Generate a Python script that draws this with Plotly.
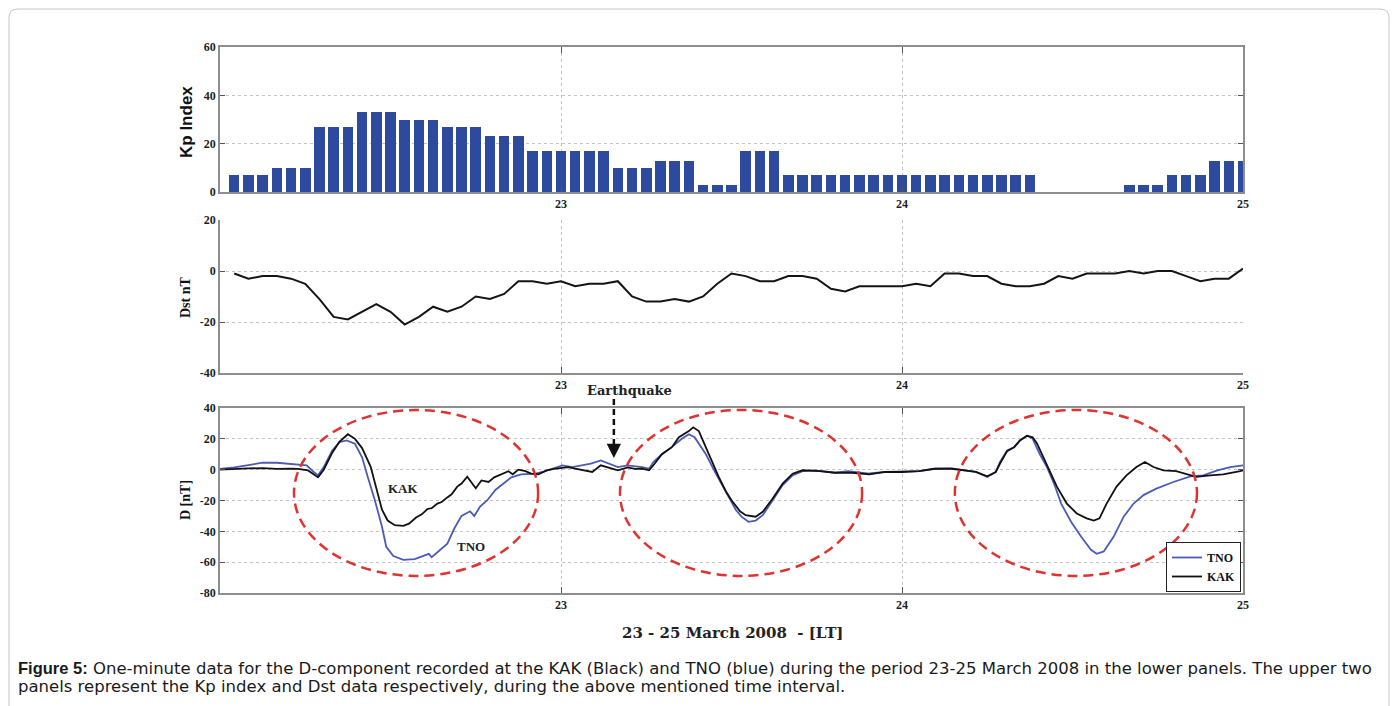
import plotly.graph_objects as go

W, H = 1397, 706

# ---------------- data ----------------
# Kp index (x10), one bar per hour, hours counted from 22 March 2008 00:00 LT
kp_hours = list(range(1, 73))
kp_values = [7, 7, 7, 10, 10, 10, 27, 27, 27, 33, 33, 33, 30, 30, 30, 27, 27, 27, 23, 23, 23, 17, 17, 17,
             17, 17, 17, 10, 10, 10, 13, 13, 13, 3, 3, 3, 17, 17, 17, 7, 7, 7, 7, 7, 7, 7, 7, 7,
             7, 7, 7, 7, 7, 7, 7, 7, 7, 0, 0, 0, 0, 0, 0, 3, 3, 3, 7, 7, 7, 13, 13, 13]

# Dst index (nT), hourly
dst_hours = list(range(1, 73))
dst_values = [-1, -3, -2, -2, -3, -5, -11, -18, -19, -16, -13, -16, -21, -18, -14, -16, -14, -10, -11, -9, -4, -4, -5, -4,
              -6, -5, -5, -4, -10, -12, -12, -11, -12, -10, -5, -1, -2, -4, -4, -2, -2, -3, -7, -8, -6, -6, -6, -6,
              -5, -6, -1, -1, -2, -2, -5, -6, -6, -5, -2, -3, -1, -1, -1, 0, -1, 0, 0, -2, -4, -3, -3, 1]

# D-component at KAK (nT)
kak_hours = [0, 1, 2, 3, 4, 5, 5.5, 6.2, 6.9, 7.3,
             7.9, 8.4, 9.0, 9.5, 10.0, 10.6, 11.0, 11.4, 11.8, 12.3,
             12.9, 13.3, 13.8, 14.2, 14.6, 14.9, 15.3, 15.6, 16.0, 16.3,
             16.7, 17.0, 17.4, 17.7, 18.0, 18.4, 18.9, 19.3, 19.8, 20.3,
             20.6, 21.0, 21.5, 21.9, 22.4, 23.0, 23.5, 24.0, 24.5, 25.0,
             25.6, 26.2, 26.8, 27.3, 28.0, 28.7, 29.2, 29.7, 30.2, 30.6,
             31.1, 31.8, 32.3, 33.0, 33.3, 33.7, 34.4, 35.1, 35.6, 36.0,
             36.6, 37.0, 37.7, 38.2, 38.9, 39.6, 40.3, 41.0, 42.2, 43.3,
             44.5, 45.7, 46.8, 48.0, 49.2, 50.3, 51.5, 52.2, 53.2, 54.0,
             54.6, 54.9, 55.4, 55.9, 56.3, 56.8, 57.2, 57.5, 58.0, 58.5,
             58.9, 59.6, 60.3, 61.0, 61.5, 61.9, 62.4, 63.1, 63.8, 64.5,
             65.1, 65.7, 66.4, 67.3, 68.3, 68.7, 69.7, 70.6, 71.8, 72.0]
kak_values = [0, 0.5, 0.8, 1, 0.5, 0.6, 0.5, -0.5, -5, 0,
              11, 18, 23, 20, 14, 2, -13, -26, -33, -36,
              -36.5, -35, -31, -29, -25.5, -25, -22, -21, -18, -16,
              -11, -9, -4.5, -8, -12, -7, -8, -5, -3, -1,
              -3, 0, -1, -2.5, -3, -0.5, 0.5, 1, 1.7, 0.6,
              -0.5, -1.5, 2.8, 1.5, -0.4, 1.5, 0.5, 0.6, -0.4, 4,
              10, 14.6, 21, 25, 27.5, 25, 10, -4.7, -14, -19.8,
              -27, -29.5, -30.5, -27.3, -18.7, -9, -2.6, -0.4, -0.9, -2,
              -2, -3, -1.5, -1.5, -0.9, 0.6, 0.6, -0.4, -1.5, -4.3,
              -1.5, 4, 12, 14.6, 19, 22, 21, 17, 7, -2.6,
              -11, -22, -28.4, -31.6, -33, -31.6, -22, -11, -3.7, 1.7,
              5, 1.7, -0.4, -0.9, -3.7, -4.7, -3.7, -3, -0.9, -0.5]

# D-component at TNO (nT)
tno_hours = [0, 1, 2, 3, 4, 5, 5.5, 6.1, 6.6, 6.9,
             7.3, 7.9, 8.4, 8.9, 9.5, 10.0, 10.4, 10.9, 11.4, 11.7,
             12.2, 12.9, 13.7, 14.3, 14.7, 14.9, 15.4, 16.0, 16.5, 17.0,
             17.6, 17.9, 18.3, 18.8, 19.4, 20.1, 20.5, 21.2, 22.2, 22.7,
             23.4, 24.1, 24.8, 25.5, 26.1, 26.8, 27.3, 28.0, 28.7, 29.7,
             30.2, 30.5, 31.1, 31.8, 32.5, 33.0, 33.4, 34.2, 34.9, 35.8,
             36.3, 36.7, 37.2, 37.7, 38.2, 38.9, 39.6, 40.3, 41.0, 41.9,
             43.3, 44.2, 45.7, 46.8, 48.0, 49.2, 50.3, 51.5, 52.2, 53.2,
             54.0, 54.6, 54.9, 55.4, 55.9, 56.3, 56.8, 57.2, 57.7, 58.2,
             58.7, 59.2, 59.9, 60.6, 61.3, 61.7, 62.2, 62.9, 63.6, 64.3,
             65.0, 65.9, 67.1, 68.3, 69.2, 70.2, 71.1, 71.8, 72.0]
tno_values = [0.5, 1.5, 3, 4.5, 4.5, 3.5, 3.4, 2.8, -1.5, -3.7,
              1.7, 12.5, 17.8, 19, 16.8, 8, -4.7, -19.8, -37, -50,
              -56, -58.5, -58, -56, -54.6, -56.8, -53, -48, -38, -30,
              -27, -30, -24, -20, -13, -8, -5, -3, -2.6, -1.5,
              0.6, 2.8, 1.7, 2.8, 3.9, 6, 4.3, 1.7, 2.8, 1.7,
              0.6, 5, 10, 14.6, 20, 23, 21, 10, -2.6, -17.6,
              -26, -30.5, -33.8, -33, -29.5, -19.8, -10, -3.7, -0.9, -0.4,
              -2, -0.9, -2.5, -1.5, -1.2, -0.9, 0.6, 0.8, -0.2, -1.5,
              -4.8, -1.5, 5, 12.5, 14.6, 19, 22, 20, 10, 1.7,
              -9, -22, -33.8, -43.4, -52, -54.6, -53, -43.4, -30.5, -22,
              -16.5, -12.3, -8, -4.3, -3.7, -0.4, 1.7, 2.8, 2.8]

# day labels on the time axis and event markers (day of March 2008, LT)
day_ticks = [23, 24, 25]
earthquake_day = 23.155
storm_windows = [(22.217, 22.933), (23.173, 23.883), (24.155, 24.865)]
storm_d_extent = (-68.9, 38.7)


def day(h):
    return 22 + h / 24.0


def px_x(px):
    return px / W


def px_y(py):
    return 1 - py / H


SERIF = "Liberation Serif"
SANS = "Liberation Sans"
AXIS_GRAY = "#8e8e8e"
GRID_GRAY = "#c4c4c4"

fig = go.Figure()

fig.add_trace(go.Bar(
    x=[day(h) for h in kp_hours], y=kp_values, width=0.74 / 24,
    marker=dict(color="#2d4a9e", line=dict(width=0)),
    xaxis="x", yaxis="y", showlegend=False, hoverinfo="skip"))

fig.add_trace(go.Scatter(
    x=[day(h) for h in dst_hours], y=dst_values, mode="lines",
    line=dict(color="#151515", width=2),
    xaxis="x2", yaxis="y2", showlegend=False, hoverinfo="skip"))

fig.add_trace(go.Scatter(
    x=[day(h) for h in tno_hours], y=tno_values, mode="lines", name="TNO",
    line=dict(color="#4b5bb6", width=1.8),
    xaxis="x3", yaxis="y3", hoverinfo="skip"))

fig.add_trace(go.Scatter(
    x=[day(h) for h in kak_hours], y=kak_values, mode="lines", name="KAK",
    line=dict(color="#111111", width=1.8),
    xaxis="x3", yaxis="y3", hoverinfo="skip"))

tickfont = dict(family=SERIF, size=12, color="#1e1e1e", weight="bold")


def x_axis(anchor, mirror):
    return dict(domain=[px_x(220), px_x(1243)], range=[22, 25], anchor=anchor,
                tickvals=day_ticks, ticktext=[str(d) for d in day_ticks],
                showgrid=True, gridcolor=GRID_GRAY, griddash="dot", gridwidth=1,
                showline=True, linecolor=AXIS_GRAY, linewidth=1.6, mirror=mirror,
                ticks="inside", ticklen=6, tickcolor="#555555", tickwidth=1,
                tickfont=tickfont, zeroline=False, fixedrange=True)


def y_axis(anchor, dom, rng, tickv, mirror):
    return dict(domain=dom, range=rng, anchor=anchor, tickvals=tickv,
                ticktext=[str(v) for v in tickv],
                showgrid=True, gridcolor=GRID_GRAY, griddash="dot", gridwidth=1,
                showline=True, linecolor=AXIS_GRAY, linewidth=1.6, mirror=mirror,
                ticks="inside", ticklen=5, tickcolor="#555555", tickwidth=1,
                tickfont=tickfont, zeroline=False, fixedrange=True)


fig.update_layout(
    width=W, height=H,
    margin=dict(l=0, r=0, t=0, b=0),
    paper_bgcolor="white", plot_bgcolor="white",
    template="none",
    bargap=0,
    xaxis=x_axis("y", "ticks"),
    yaxis=y_axis("x", [px_y(192), px_y(47)], [0, 60], [0, 20, 40, 60], "ticks"),
    xaxis2=x_axis("y2", False),
    yaxis2=y_axis("x2", [px_y(373), px_y(220)], [-40, 20], [-40, -20, 0, 20], False),
    xaxis3=x_axis("y3", "ticks"),
    yaxis3=y_axis("x3", [px_y(593), px_y(408)], [-80, 40], [-80, -60, -40, -20, 0, 20, 40], "ticks"),
    showlegend=True,
    legend=dict(x=px_x(1241), xanchor="right", y=px_y(592), yanchor="bottom",
                bgcolor="white", bordercolor="#222222", borderwidth=1,
                font=dict(family=SERIF, size=12, color="#111111", weight="bold"),
                itemwidth=30, tracegroupgap=0),
)


def label(px, py, text, font, angle=0, xanchor="center"):
    fig.add_annotation(x=px_x(px), y=px_y(py), xref="paper", yref="paper",
                       xanchor=xanchor, yanchor="middle", text=text,
                       textangle=angle, showarrow=False, font=font)


# storm intervals circled on the D panel
for x0, x1 in storm_windows:
    fig.add_shape(type="circle", xref="x3", yref="y3",
                  x0=x0, x1=x1, y0=storm_d_extent[0], y1=storm_d_extent[1],
                  line=dict(color="#e0322f", width=2.5, dash="10px,6px"))

# earthquake marker: dashed shaft plus arrow head
fig.add_shape(type="line", xref="x3", yref="paper",
              x0=earthquake_day, x1=earthquake_day, y0=px_y(399), y1=px_y(447),
              line=dict(color="#111111", width=2.5, dash="6px,4px"))
fig.add_annotation(x=earthquake_day, xref="x3", y=px_y(458), yref="paper",
                   ax=0, ay=-13, axref="pixel", ayref="pixel", text="",
                   showarrow=True, arrowhead=2, arrowsize=1.3, arrowwidth=2.2,
                   arrowcolor="#111111")
label(629, 391, "Earthquake", dict(family="DejaVu Serif", size=13, color="#222222", weight="bold"))

# station labels
label(403, 489, "KAK", dict(family=SERIF, size=13, color="#222222", weight="bold"))
label(471, 546, "TNO", dict(family=SERIF, size=13, color="#222222", weight="bold"))

# axis titles
label(186, 122, "Kp Index", dict(family=SANS, size=17, color="#111111", weight="bold"), angle=-90)
label(186, 297, "Dst nT", dict(family=SERIF, size=14, color="#111111", weight="bold"), angle=-90)
label(186, 500, "D [nT]", dict(family=SERIF, size=14, color="#111111", weight="bold"), angle=-90)
label(732, 633, "23 - 25 March 2008  - [LT]",
      dict(family="DejaVu Serif", size=15, color="#222222", weight="bold"))

# caption
cap_font = dict(family="DejaVu Sans", size=16.5, color="#1a1a1a")
label(16, 668, "<span style='font-family:Liberation Sans;font-weight:bold'>Figure 5:</span> "
               "One-minute data for the D-component recorded at the KAK (Black) "
               "and TNO (blue) during the period 23-25 March 2008 in the lower panels. The upper two",
      cap_font, xanchor="left")
label(16, 686, "panels represent the Kp index and Dst data respectively, during the above mentioned time interval.",
      cap_font, xanchor="left")

# rounded frame around the figure
l, t, r, b, rad = px_x(9), px_y(9), px_x(1389), px_y(760), 9
rx, ry = rad / W, rad / H
frame = (f"M {l},{b} L {l},{t - ry} Q {l},{t} {l + rx},{t} "
         f"L {r - rx},{t} Q {r},{t} {r},{t - ry} L {r},{b}")
fig.add_shape(type="path", xref="paper", yref="paper", path=frame,
              line=dict(color="#c6c6c6", width=1))

fig.write_html("out.html")
